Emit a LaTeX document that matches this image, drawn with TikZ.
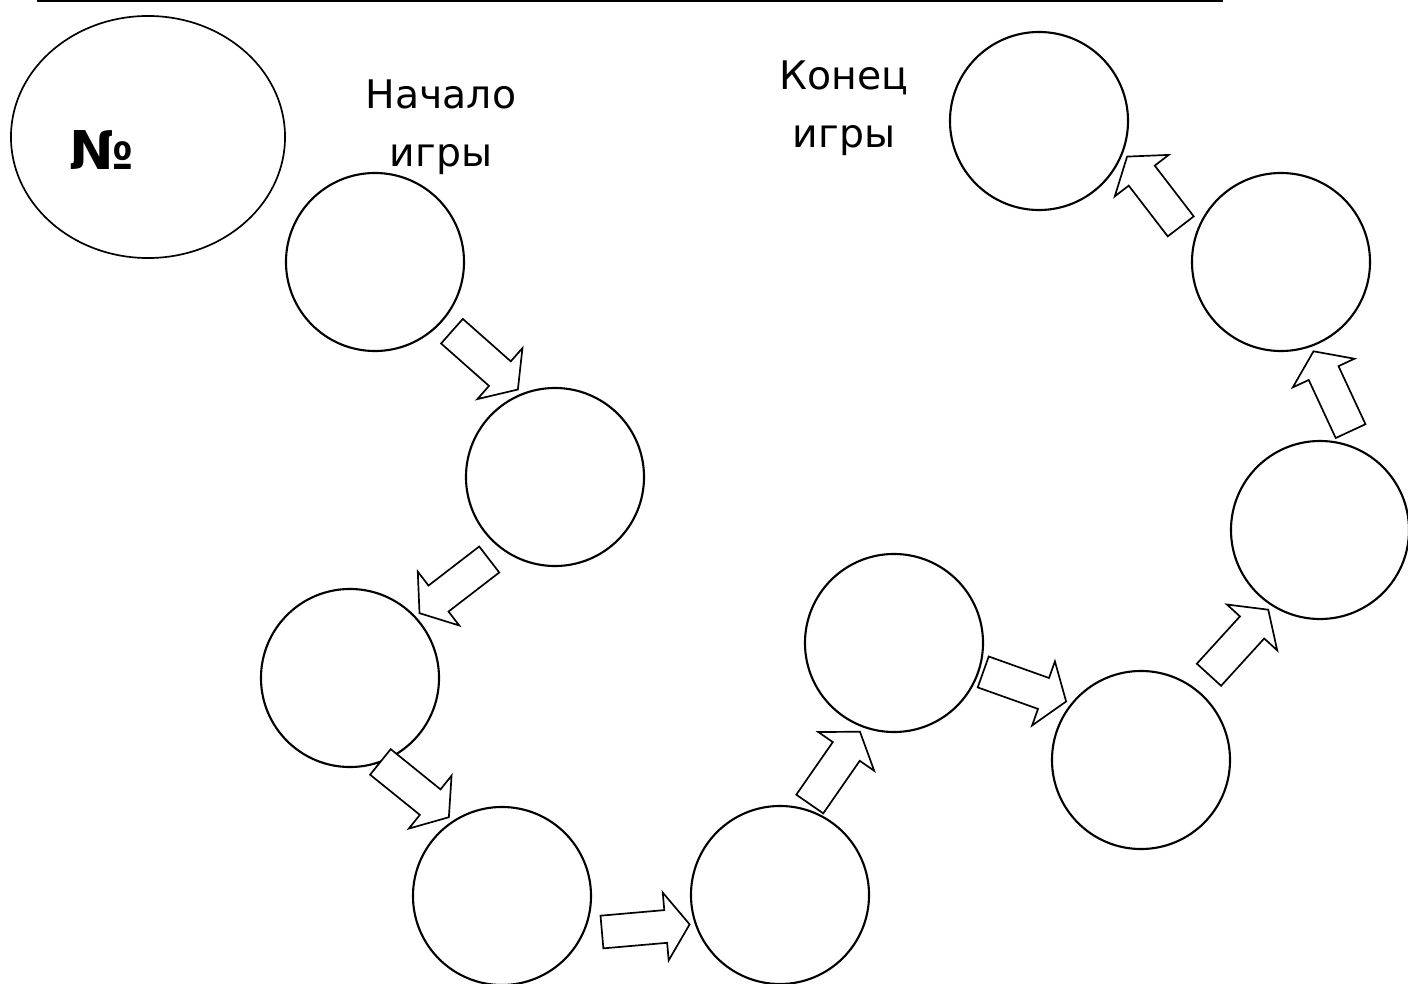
\documentclass[tikz,border=0pt]{standalone}
\usepackage{fontspec}
\setmainfont{DejaVu Sans}
\usetikzlibrary{calc, shapes.geometric}
\tikzstyle{cell} = [circle, minimum size=4.45cm, draw=black, line width=1.5pt, outer sep=0.15cm]
\tikzstyle{badge} = [ellipse, minimum width=6.85cm, minimum height=6.05cm, draw=black, line width=1.2pt]
\tikzstyle{gametext} = [align=center, font=\fontsize{28}{41}\selectfont]
\tikzstyle{fatarrow} = [draw=black, line width=1.2pt, fill=white, line join=miter]
% block arrow, tip at #2, pointing away from #1
\newcommand{\gamestep}[2]{%
  \coordinate (tail) at ($(#2)!2.2cm!(#1)$);
  \coordinate (neck) at ($(#2)!0.6cm!(#1)$);
  \draw[fatarrow] ($(tail)!0.41cm!90:(#2)$) -- ($(neck)!0.41cm!90:(#2)$) -- ($(neck)!0.85cm!90:(#2)$) -- (#2)
    -- ($(neck)!0.85cm!-90:(#2)$) -- ($(neck)!0.41cm!-90:(#2)$) -- ($(tail)!0.41cm!-90:(#2)$) -- cycle;
}

\begin{document}
\begin{tikzpicture}[x=0.025cm, y=-0.025cm]
      \useasboundingbox (0,0) rectangle (1408,984);
      \coordinate (rulel) at (37,1);
      \coordinate (ruler) at (1223,1);
      \draw [line width=1.5pt] (rulel) -- (ruler);
      \node (badge) [badge] at (148,137) {};
      \node (nummark) [font=\fontsize{38}{42}\selectfont\bfseries] at (102,150) {№};
      \node (start) [gametext] at (441,127) {Начало\\игры};
      \node (finish) [gametext] at (844,108) {Конец\\игры};
      % cells of the track
      \node (c1) [cell] at (375,262) {};
      \node (c2) [cell] at (555,477) {};
      \node (c3) [cell] at (350,678) {};
      \node (c4) [cell] at (502,896) {};
      \node (c5) [cell] at (780,895) {};
      \node (c6) [cell] at (894,643) {};
      \node (c7) [cell] at (1141,760) {};
      \node (c8) [cell] at (1320,530) {};
      \node (c9) [cell] at (1281,262) {};
      \node (c10) [cell] at (1039,121) {};
      % arrows
      \gamestep{c1.-42}{c2.113}
      \gamestep{c2.-127}{c3.43}
      \gamestep{c3.-68}{c4.124}
      \gamestep{c4.-23}{c5.198}
      \gamestep{c5.72}{c6.-111}
      \gamestep{c6.-18}{c7.142}
      \gamestep{c7.52}{c8.-123}
      \gamestep{c8.68}{c9.-70}
      \gamestep{c9.165}{c10.-22}
\end{tikzpicture}
\end{document}
